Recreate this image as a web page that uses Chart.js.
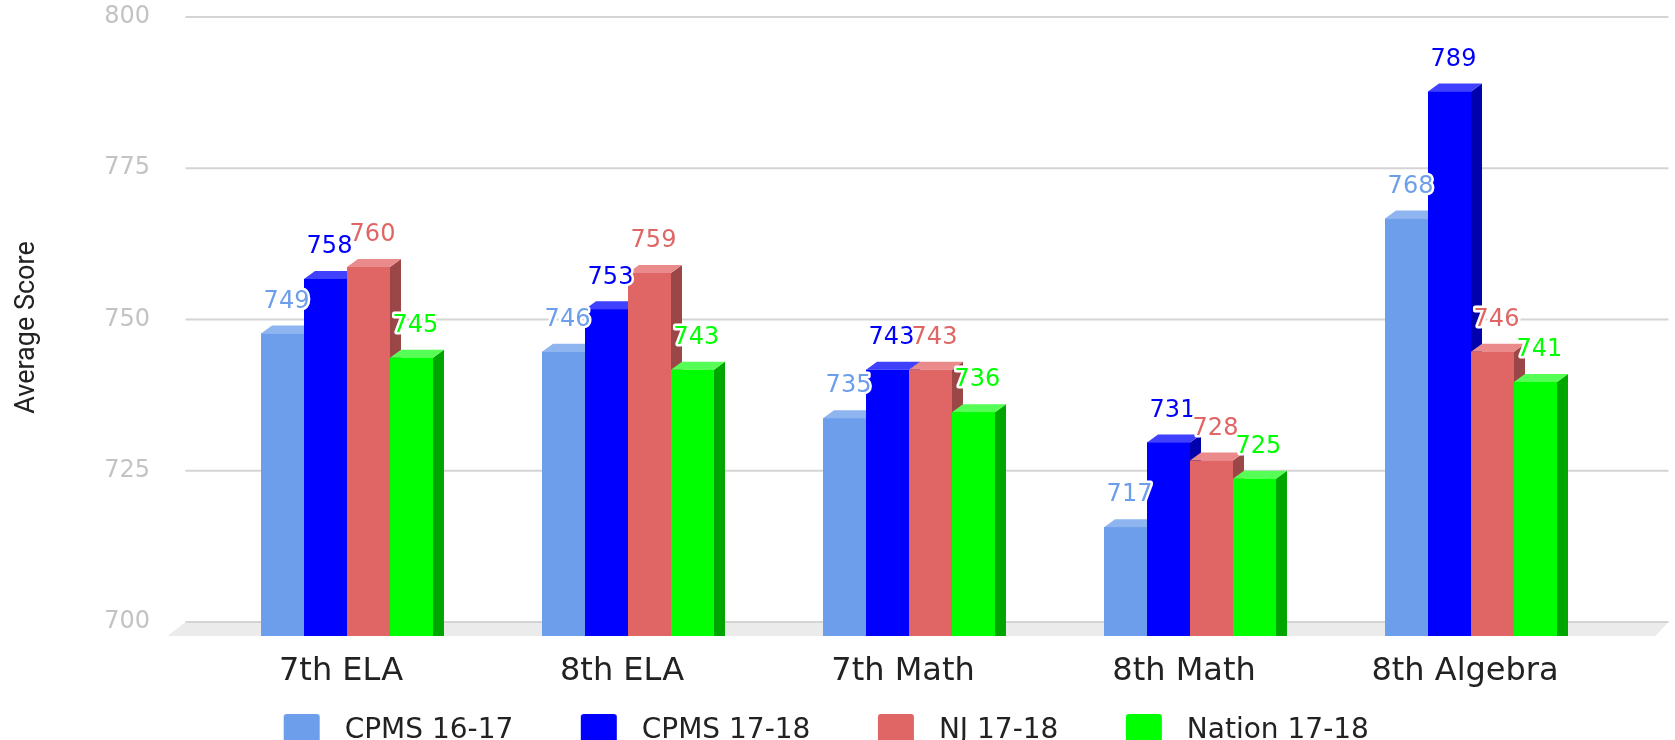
<!DOCTYPE html>
<html>
<head>
<meta charset="utf-8">
<script src="https://cdn.jsdelivr.net/npm/chart.js@4.4.1/dist/chart.umd.min.js"></script>
<style>
  html, body { margin: 0; padding: 0; background: #fff; }
  #wrap { width: 1675px; height: 740px; }
</style>
</head>
<body>
<div id="wrap"><canvas id="chart"></canvas></div>
<script>
const categories = ['7th ELA', '8th ELA', '7th Math', '8th Math', '8th Algebra'];
const seriesNames = ['CPMS 16-17', 'CPMS 17-18', 'NJ 17-18', 'Nation 17-18'];
const cpms1617 = [749, 746, 735, 717, 768];
const cpms1718 = [758, 753, 743, 731, 789];
const nj1718 = [760, 759, 743, 728, 746];
const nation1718 = [745, 743, 736, 725, 741];
const yTicks = [700, 725, 750, 775, 800];

const frontColors = ['#6d9eeb', '#0000ff', '#e06666', '#00ff00'];
const topColors = ['#8fb5f1', '#4040ff', '#ea8a8a', '#55ff55'];
const sideColors = ['#5479b8', '#0000ad', '#9c4747', '#00a600'];

// 3d look: bar depth and floor depth in px
const DX = 11, DY = 8;
const FLOOR_X = 18, FLOOR_Y = 14;

// legend swatch with some empty room before and after the square
function swatch(color) {
  const c = document.createElement('canvas');
  c.width = 88;
  c.height = 34;
  const g = c.getContext('2d');
  g.fillStyle = color;
  g.beginPath();
  g.roundRect(41, 0, 36, 34, 3);
  g.fill();
  return c;
}
const swatches = frontColors.map(swatch);

function poly(ctx, pts) {
  ctx.beginPath();
  ctx.moveTo(pts[0][0], pts[0][1]);
  pts.slice(1).forEach(p => ctx.lineTo(p[0], p[1]));
  ctx.closePath();
  ctx.fill();
}

const box3d = {
  id: 'box3d',
  beforeDatasetsDraw(chart) {
    const { ctx, chartArea: a, scales: { y } } = chart;
    const yb = y.getPixelForValue(y.min) - DY;
    const yf = yb + FLOOR_Y;
    const x0 = a.left - 21, x1 = a.right + 57;
    ctx.save();
    ctx.fillStyle = '#ebebeb';
    poly(ctx, [[x0, yb], [x1, yb], [x1 - 13, yf], [x0 - FLOOR_X, yf]]);
    ctx.strokeStyle = '#d4d4d4';
    ctx.lineWidth = 2;
    y.ticks.forEach(t => {
      const py = y.getPixelForValue(t.value) - DY;
      ctx.beginPath();
      ctx.moveTo(x0, py);
      ctx.lineTo(x1, py);
      ctx.stroke();
    });
    ctx.restore();
  },
  afterDatasetsDraw(chart) {
    const { ctx, scales: { y } } = chart;
    const floorY = y.getPixelForValue(y.min) - DY + FLOOR_Y;
    const metas = chart.data.datasets.map((d, i) => chart.getDatasetMeta(i));
    ctx.save();
    categories.forEach((c, i) => {
      metas.forEach((m, d) => {
        const bar = m.data[i];
        const l = bar.x - bar.width / 2, r = bar.x + bar.width / 2, top = bar.y;
        ctx.fillStyle = sideColors[d];
        poly(ctx, [[r, top], [r + DX, top - DY], [r + DX, floorY], [r, floorY]]);
        ctx.fillStyle = topColors[d];
        poly(ctx, [[l, top], [l + DX, top - DY], [r + DX, top - DY], [r, top]]);
        ctx.fillStyle = frontColors[d];
        ctx.fillRect(l, top, bar.width, floorY - top);
      });
    });

    // value labels with white halo
    ctx.font = '24px "DejaVu Sans"';
    ctx.textAlign = 'center';
    ctx.textBaseline = 'middle';
    ctx.lineJoin = 'round';
    ctx.lineWidth = 5;
    ctx.strokeStyle = '#fff';
    metas.forEach((m, d) => {
      m.data.forEach((bar, i) => {
        const s = String(chart.data.datasets[d].data[i]);
        const tx = bar.x + 4, ty = bar.y - 32;
        ctx.strokeText(s, tx, ty);
        ctx.fillStyle = frontColors[d];
        ctx.fillText(s, tx, ty);
      });
    });
    ctx.restore();
  }
};

const series = [cpms1617, cpms1718, nj1718, nation1718];

new Chart(document.getElementById('chart'), {
  type: 'bar',
  data: {
    labels: categories,
    datasets: series.map((vals, i) => ({
      label: seriesNames[i],
      data: vals,
      backgroundColor: frontColors[i],
      borderWidth: 0,
      categoryPercentage: 0.612,
      barPercentage: 1,
    })),
  },
  options: {
    responsive: true,
    maintainAspectRatio: false,
    animation: false,
    layout: { padding: { top: 25, right: 63.5, bottom: -15, left: 0 } },
    plugins: {
      tooltip: { enabled: false },
      legend: {
        position: 'bottom',
        labels: {
          usePointStyle: true,
          pointStyleWidth: 88,
          padding: 26.5,
          color: '#222',
          font: { family: 'DejaVu Sans', size: 28 },
          generateLabels(chart) {
            const items = Chart.defaults.plugins.legend.labels.generateLabels(chart);
            items.forEach((it, i) => { it.pointStyle = swatches[i]; });
            return items;
          },
        },
      },
    },
    scales: {
      x: {
        grid: { display: false, drawTicks: false },
        border: { display: false },
        ticks: {
          color: '#222',
          padding: 22,
          labelOffset: -6,
          font: { family: 'DejaVu Sans', size: 32 },
        },
        afterFit: (scale) => { scale.height = 60.5; },
      },
      y: {
        min: 700,
        max: 800,
        grid: { display: false, drawTicks: true, tickLength: 52 },
        border: { display: false },
        afterBuildTicks: (scale) => { scale.ticks = yTicks.map(v => ({ value: v })); },
        ticks: {
          padding: 4.5,
          labelOffset: -DY,
          color: '#c3c3c3',
          font: { family: 'DejaVu Sans', size: 24 },
        },
        title: {
          display: true,
          text: 'Average Score',
          color: '#222',
          font: { family: 'Roboto', size: 27 },
          padding: { top: 11, bottom: 0 },
        },
        afterFit: (scale) => { scale.width = 206.5; },
      },
    },
  },
  plugins: [box3d],
});
</script>
</body>
</html>
